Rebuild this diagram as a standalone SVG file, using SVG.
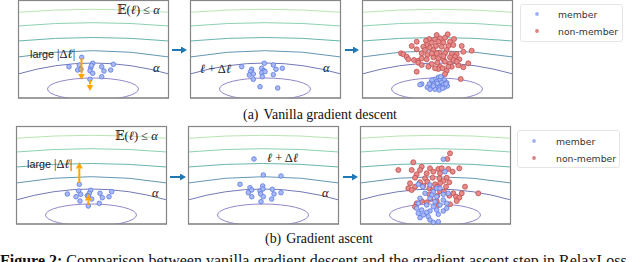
<svg xmlns="http://www.w3.org/2000/svg" xmlns:xlink="http://www.w3.org/1999/xlink" width="640" height="262" viewBox="0 0 640 262">
<style>
.pf{fill:#fff;stroke:#858585;stroke-width:1.1}
.ct{fill:none;stroke-width:1}
.c1{stroke:#b8e4b0}.c2{stroke:#8dd1b2}.c3{stroke:#68b5ae}.c4{stroke:#6497b3}.c5{stroke:#7279b5}.c6{stroke:#9587c8}
.mb{fill:#aab9f4;stroke:#5b7be6;stroke-width:0.8}
.nm{fill:#e68a8a;stroke:#c04e4e;stroke-width:0.8}
.m{font-family:"Liberation Serif","DejaVu Serif",serif;font-size:12.5px;fill:#222}
.it{font-style:italic}
.sans{font-family:"Liberation Sans",Arial,sans-serif;font-size:10.8px;fill:#222}
.lg{fill:#fff;stroke:#e2e2e2;stroke-width:0.9}
.lt{font-family:"DejaVu Sans",sans-serif;font-size:9.3px;fill:#333}
.cap{font-family:"Liberation Serif","Times New Roman",serif;fill:#111}
.ba{stroke:#1f77b4;stroke-width:2;fill:none}
.oa{stroke:#ffa500;stroke-width:2;fill:none}
</style>
<defs>
<clipPath id="pc" clipPathUnits="userSpaceOnUse"><rect x="0" y="0" width="150.5" height="98"/></clipPath>
<g id="panel">
<rect class="pf" x="0.5" y="0.5" width="150" height="97.5"/>
<g clip-path="url(#pc)">
<path class="ct c1" d="M0,12.3 Q75,6.3 151,12.3"/>
<path class="ct c2" d="M0,26 Q75,19.4 151,26"/>
<path class="ct c3" d="M0,41 Q75,34 151,41"/>
<path class="ct c4" d="M0,57 Q75,44.4 151,57"/>
<path class="ct c5" d="M0,74 Q75,52 151,74"/>
<ellipse class="ct c6" cx="75" cy="89" rx="45.5" ry="11"/>
</g>
<rect x="0.5" y="0.5" width="150" height="97.5" fill="none" stroke="#858585" stroke-width="1.1"/>
</g>
<marker id="hb" markerUnits="userSpaceOnUse" markerWidth="8" markerHeight="8" refX="0" refY="3.5" orient="auto" viewBox="0 0 8 8"><path d="M0,0 L6,3.5 L0,7 z" fill="#1f77b4"/></marker>
<marker id="ho" markerUnits="userSpaceOnUse" markerWidth="8" markerHeight="8" refX="0" refY="3.5" orient="auto" viewBox="0 0 8 8"><path d="M0,0 L6.5,3.5 L0,7 z" fill="#ffa500"/></marker>
</defs>

<g id="panel-a1">
<use xlink:href="#panel" x="18" y="0"/>
<text class="m" x="117" y="14">𝔼(<tspan class="it">ℓ</tspan>) ≤ <tspan class="it">α</tspan></text>
<text class="m it" x="153" y="72">α</text>
<text x="30" y="58"><tspan class="sans">large</tspan><tspan class="m" dx="3">|Δ<tspan class="it">ℓ</tspan>|</tspan></text>
<g>
<circle class="mb" cx="81.7" cy="57.3" r="2.3"/><circle class="mb" cx="69" cy="66.7" r="2.3"/><circle class="mb" cx="79.3" cy="65" r="2.3"/><circle class="mb" cx="77.7" cy="70" r="2.3"/><circle class="mb" cx="81" cy="69.3" r="2.3"/><circle class="mb" cx="92.7" cy="63.3" r="2.3"/><circle class="mb" cx="90.7" cy="67.7" r="2.3"/><circle class="mb" cx="90" cy="70.7" r="2.3"/><circle class="mb" cx="92.7" cy="73.3" r="2.3"/><circle class="mb" cx="101.7" cy="66.7" r="2.3"/><circle class="mb" cx="104" cy="71" r="2.3"/><circle class="mb" cx="110.7" cy="70" r="2.3"/><circle class="mb" cx="113.3" cy="64.3" r="2.3"/><circle class="mb" cx="101.7" cy="76.7" r="2.3"/><circle class="mb" cx="90" cy="79.3" r="2.3"/><circle class="mb" cx="91.5" cy="65.5" r="2.3"/>
</g>
<line class="oa" x1="81.5" y1="58" x2="81.5" y2="73.5" marker-end="url(#ho)"/>
<line class="oa" x1="90" y1="80" x2="90" y2="84.5" marker-end="url(#ho)"/>
</g>

<g id="panel-a2">
<use xlink:href="#panel" x="190" y="0"/>
<text class="m" x="200" y="73"><tspan class="it">ℓ</tspan> + Δ<tspan class="it">ℓ</tspan></text>
<text class="m it" x="323" y="72">α</text>
<circle class="mb" cx="264.3" cy="63.3" r="2.3"/><circle class="mb" cx="241.7" cy="66.7" r="2.3"/><circle class="mb" cx="273.3" cy="65" r="2.3"/><circle class="mb" cx="261.7" cy="68.3" r="2.3"/><circle class="mb" cx="264" cy="70.7" r="2.3"/><circle class="mb" cx="251.7" cy="69.3" r="2.3"/><circle class="mb" cx="250.7" cy="71.7" r="2.3"/><circle class="mb" cx="276" cy="69.3" r="2.3"/><circle class="mb" cx="282.3" cy="68.3" r="2.3"/><circle class="mb" cx="249.3" cy="75" r="2.3"/><circle class="mb" cx="253.3" cy="74" r="2.3"/><circle class="mb" cx="261.7" cy="72.7" r="2.3"/><circle class="mb" cx="273.3" cy="74.7" r="2.3"/><circle class="mb" cx="262.3" cy="76.7" r="2.3"/><circle class="mb" cx="253.3" cy="79.3" r="2.3"/><circle class="mb" cx="260" cy="86.7" r="2.3"/><circle class="mb" cx="277.7" cy="88" r="2.3"/><circle class="mb" cx="265" cy="71.7" r="2.3"/>
</g>

<g id="panel-a3">
<use xlink:href="#panel" x="362" y="0"/>
<g>
<circle class="nm" cx="436.7" cy="35" r="2.5"/><circle class="nm" cx="447.7" cy="34.3" r="2.5"/><circle class="nm" cx="429.3" cy="39" r="2.5"/><circle class="nm" cx="435" cy="39.3" r="2.5"/><circle class="nm" cx="440" cy="38.3" r="2.5"/><circle class="nm" cx="445" cy="37.7" r="2.5"/><circle class="nm" cx="454" cy="39" r="2.5"/><circle class="nm" cx="416.7" cy="41.7" r="2.5"/><circle class="nm" cx="426" cy="40.7" r="2.5"/><circle class="nm" cx="431.7" cy="42.7" r="2.5"/><circle class="nm" cx="438.3" cy="41.7" r="2.5"/><circle class="nm" cx="443.3" cy="42.7" r="2.5"/><circle class="nm" cx="450" cy="41.7" r="2.5"/><circle class="nm" cx="426.7" cy="45" r="2.5"/><circle class="nm" cx="411.7" cy="46" r="2.5"/><circle class="nm" cx="423.3" cy="46.7" r="2.5"/><circle class="nm" cx="430" cy="47.7" r="2.5"/><circle class="nm" cx="436" cy="46" r="2.5"/><circle class="nm" cx="441.7" cy="46.7" r="2.5"/><circle class="nm" cx="448.3" cy="46" r="2.5"/><circle class="nm" cx="453.3" cy="45" r="2.5"/><circle class="nm" cx="461.7" cy="46" r="2.5"/><circle class="nm" cx="416.7" cy="49.3" r="2.5"/><circle class="nm" cx="433.3" cy="50" r="2.5"/><circle class="nm" cx="446.7" cy="50" r="2.5"/><circle class="nm" cx="401" cy="53.3" r="2.5"/><circle class="nm" cx="403.3" cy="54.3" r="2.5"/><circle class="nm" cx="406.7" cy="56.7" r="2.5"/><circle class="nm" cx="421.7" cy="53.3" r="2.5"/><circle class="nm" cx="427.3" cy="55" r="2.5"/><circle class="nm" cx="439.3" cy="52.7" r="2.5"/><circle class="nm" cx="445" cy="53.3" r="2.5"/><circle class="nm" cx="451.7" cy="54" r="2.5"/><circle class="nm" cx="456.7" cy="54" r="2.5"/><circle class="nm" cx="463.3" cy="51.7" r="2.5"/><circle class="nm" cx="471.7" cy="50.7" r="2.5"/><circle class="nm" cx="414" cy="60" r="2.5"/><circle class="nm" cx="418.3" cy="60.7" r="2.5"/><circle class="nm" cx="421.7" cy="58.3" r="2.5"/><circle class="nm" cx="426.7" cy="59.3" r="2.5"/><circle class="nm" cx="433.3" cy="57.3" r="2.5"/><circle class="nm" cx="438.3" cy="58.3" r="2.5"/><circle class="nm" cx="443.3" cy="59.3" r="2.5"/><circle class="nm" cx="450" cy="57.3" r="2.5"/><circle class="nm" cx="455" cy="56.7" r="2.5"/><circle class="nm" cx="459.3" cy="59.3" r="2.5"/><circle class="nm" cx="408.3" cy="59.3" r="2.5"/><circle class="nm" cx="418.3" cy="62.7" r="2.5"/><circle class="nm" cx="431.7" cy="64" r="2.5"/><circle class="nm" cx="437.3" cy="62.7" r="2.5"/><circle class="nm" cx="445" cy="61.7" r="2.5"/><circle class="nm" cx="450" cy="63.3" r="2.5"/><circle class="nm" cx="458.3" cy="65.3" r="2.5"/><circle class="nm" cx="468.3" cy="63.3" r="2.5"/><circle class="nm" cx="463.3" cy="67.3" r="2.5"/><circle class="nm" cx="440" cy="66.7" r="2.5"/><circle class="nm" cx="438.3" cy="69" r="2.5"/><circle class="nm" cx="442.7" cy="68.3" r="2.5"/><circle class="nm" cx="446.7" cy="70.7" r="2.5"/><circle class="nm" cx="451.7" cy="66.7" r="2.5"/><circle class="nm" cx="416.7" cy="71.7" r="2.5"/><circle class="nm" cx="445" cy="74" r="2.5"/><circle class="nm" cx="460.7" cy="79" r="2.5"/><circle class="nm" cx="425" cy="50" r="2.5"/><circle class="nm" cx="436.7" cy="53.3" r="2.5"/><circle class="nm" cx="443.3" cy="56" r="2.5"/><circle class="nm" cx="431.7" cy="53.3" r="2.5"/><circle class="nm" cx="453.3" cy="60" r="2.5"/><circle class="nm" cx="428.3" cy="66.7" r="2.5"/><circle class="nm" cx="435" cy="68.3" r="2.5"/><circle class="nm" cx="421.7" cy="65" r="2.5"/><circle class="nm" cx="448.3" cy="66.7" r="2.5"/><circle class="nm" cx="456.7" cy="61.7" r="2.5"/>
</g>
<g>
<circle class="mb" cx="438.3" cy="77.3" r="2.3"/><circle class="mb" cx="441.7" cy="78.3" r="2.3"/><circle class="mb" cx="435" cy="79.3" r="2.3"/><circle class="mb" cx="440" cy="80" r="2.3"/><circle class="mb" cx="444.3" cy="80" r="2.3"/><circle class="mb" cx="431.7" cy="81.7" r="2.3"/><circle class="mb" cx="436.7" cy="81.7" r="2.3"/><circle class="mb" cx="441.7" cy="82.7" r="2.3"/><circle class="mb" cx="446.7" cy="82.7" r="2.3"/><circle class="mb" cx="429.3" cy="84" r="2.3"/><circle class="mb" cx="434" cy="84" r="2.3"/><circle class="mb" cx="438.3" cy="85" r="2.3"/><circle class="mb" cx="443.3" cy="85" r="2.3"/><circle class="mb" cx="447.3" cy="86" r="2.3"/><circle class="mb" cx="427.3" cy="87.3" r="2.3"/><circle class="mb" cx="431.7" cy="87.3" r="2.3"/><circle class="mb" cx="436" cy="87.3" r="2.3"/><circle class="mb" cx="440" cy="87.7" r="2.3"/><circle class="mb" cx="444.3" cy="87.3" r="2.3"/><circle class="mb" cx="430" cy="89.3" r="2.3"/><circle class="mb" cx="435" cy="89.3" r="2.3"/><circle class="mb" cx="439.3" cy="90" r="2.3"/><circle class="mb" cx="433.3" cy="86" r="2.3"/><circle class="mb" cx="437.3" cy="83.3" r="2.3"/><circle class="mb" cx="442.7" cy="88.3" r="2.3"/><circle class="mb" cx="421.7" cy="84" r="2.3"/><circle class="mb" cx="420" cy="84.7" r="2.3"/><circle class="mb" cx="432" cy="80" r="2.3"/><circle class="mb" cx="446" cy="84" r="2.3"/><circle class="mb" cx="440.7" cy="76.7" r="2.3"/>
</g>
</g>

<g id="legend-a">
<rect class="lg" x="520.5" y="4.5" width="102" height="37" rx="2.5"/>
<circle cx="537" cy="14" r="1.9" fill="#9fb0f0"/>
<text class="lt" x="558" y="17.5">member</text>
<circle cx="537" cy="31" r="1.9" fill="#dc8484"/>
<text class="lt" x="558" y="34.5">non-member</text>
</g>

<text id="caption-a" class="cap" x="320" y="119" font-size="13.9" text-anchor="middle">(a)<tspan dx="5">Vanilla gradient descent</tspan></text>

<g id="panel-b1">
<use xlink:href="#panel" x="16" y="126"/>
<text class="m" x="115" y="140">𝔼(<tspan class="it">ℓ</tspan>) ≤ <tspan class="it">α</tspan></text>
<text class="m it" x="152" y="197">α</text>
<text x="27" y="168"><tspan class="sans">large</tspan><tspan class="m" dx="3">|Δ<tspan class="it">ℓ</tspan>|</tspan></text>
<circle class="mb" cx="79.3" cy="184.3" r="2.3"/><circle class="mb" cx="67.3" cy="194" r="2.3"/><circle class="mb" cx="78.7" cy="191" r="2.3"/><circle class="mb" cx="80.7" cy="194.3" r="2.3"/><circle class="mb" cx="76" cy="196.7" r="2.3"/><circle class="mb" cx="80" cy="201" r="2.3"/><circle class="mb" cx="90.7" cy="190.3" r="2.3"/><circle class="mb" cx="89.3" cy="193.3" r="2.3"/><circle class="mb" cx="87.3" cy="195.7" r="2.3"/><circle class="mb" cx="91.7" cy="199" r="2.3"/><circle class="mb" cx="100" cy="193.3" r="2.3"/><circle class="mb" cx="102.3" cy="197.7" r="2.3"/><circle class="mb" cx="109" cy="196.7" r="2.3"/><circle class="mb" cx="111.7" cy="191.7" r="2.3"/><circle class="mb" cx="99.3" cy="203.3" r="2.3"/><circle class="mb" cx="88.3" cy="206" r="2.3"/><circle class="mb" cx="88.3" cy="196" r="2.3"/>
<line class="oa" x1="79.3" y1="183" x2="79.3" y2="168.5" marker-end="url(#ho)"/>
<line class="oa" x1="88.3" y1="205" x2="88.3" y2="200.5" marker-end="url(#ho)"/>
</g>

<g id="panel-b2">
<use xlink:href="#panel" x="188" y="126"/>
<text class="m" x="267" y="162"><tspan class="it">ℓ</tspan> + Δ<tspan class="it">ℓ</tspan></text>
<text class="m it" x="322" y="197">α</text>
<circle class="mb" cx="254" cy="159" r="2.3"/><circle class="mb" cx="263.3" cy="175" r="2.3"/><circle class="mb" cx="281" cy="176" r="2.3"/><circle class="mb" cx="240" cy="184.3" r="2.3"/><circle class="mb" cx="250" cy="187.7" r="2.3"/><circle class="mb" cx="262.7" cy="186" r="2.3"/><circle class="mb" cx="251.7" cy="190" r="2.3"/><circle class="mb" cx="248.3" cy="192.7" r="2.3"/><circle class="mb" cx="260" cy="191" r="2.3"/><circle class="mb" cx="272.3" cy="189.3" r="2.3"/><circle class="mb" cx="281" cy="192.7" r="2.3"/><circle class="mb" cx="274" cy="194" r="2.3"/><circle class="mb" cx="260.7" cy="194" r="2.3"/><circle class="mb" cx="251.7" cy="196.7" r="2.3"/><circle class="mb" cx="263.3" cy="196.7" r="2.3"/><circle class="mb" cx="271.7" cy="199" r="2.3"/><circle class="mb" cx="261" cy="201.7" r="2.3"/><circle class="mb" cx="263" cy="189" r="2.3"/>
</g>

<g id="panel-b3">
<use xlink:href="#panel" x="360" y="126"/>
<g>
<circle class="nm" cx="450" cy="153.3" r="2.5"/><circle class="nm" cx="447.3" cy="159" r="2.5"/><circle class="nm" cx="413.3" cy="162.3" r="2.5"/><circle class="nm" cx="421.7" cy="166.7" r="2.5"/><circle class="nm" cx="420" cy="170" r="2.5"/><circle class="nm" cx="398.3" cy="170" r="2.5"/><circle class="nm" cx="411.7" cy="170" r="2.5"/><circle class="nm" cx="430" cy="168.3" r="2.5"/><circle class="nm" cx="438.3" cy="169" r="2.5"/><circle class="nm" cx="441.7" cy="168.3" r="2.5"/><circle class="nm" cx="448.3" cy="169" r="2.5"/><circle class="nm" cx="459.3" cy="168.3" r="2.5"/><circle class="nm" cx="416.7" cy="174.3" r="2.5"/><circle class="nm" cx="426.7" cy="173.3" r="2.5"/><circle class="nm" cx="433.3" cy="171.7" r="2.5"/><circle class="nm" cx="440" cy="173.3" r="2.5"/><circle class="nm" cx="452.7" cy="171.7" r="2.5"/><circle class="nm" cx="415" cy="177.7" r="2.5"/><circle class="nm" cx="425" cy="178.3" r="2.5"/><circle class="nm" cx="432.7" cy="177.7" r="2.5"/><circle class="nm" cx="439.3" cy="178.3" r="2.5"/><circle class="nm" cx="446.7" cy="177.7" r="2.5"/><circle class="nm" cx="443.3" cy="181" r="2.5"/><circle class="nm" cx="410" cy="183.3" r="2.5"/><circle class="nm" cx="420" cy="182.3" r="2.5"/><circle class="nm" cx="427.3" cy="181.7" r="2.5"/><circle class="nm" cx="435" cy="184.3" r="2.5"/><circle class="nm" cx="440" cy="183.3" r="2.5"/><circle class="nm" cx="449.3" cy="182.3" r="2.5"/><circle class="nm" cx="408.3" cy="188.3" r="2.5"/><circle class="nm" cx="415" cy="186.7" r="2.5"/><circle class="nm" cx="423.3" cy="185.7" r="2.5"/><circle class="nm" cx="429.3" cy="188.3" r="2.5"/><circle class="nm" cx="437.3" cy="186.7" r="2.5"/><circle class="nm" cx="446" cy="186.7" r="2.5"/><circle class="nm" cx="465" cy="186.7" r="2.5"/><circle class="nm" cx="411.7" cy="190" r="2.5"/><circle class="nm" cx="433.3" cy="190" r="2.5"/><circle class="nm" cx="440" cy="191" r="2.5"/><circle class="nm" cx="444" cy="191.7" r="2.5"/><circle class="nm" cx="453.3" cy="193.3" r="2.5"/><circle class="nm" cx="461.7" cy="193.3" r="2.5"/><circle class="nm" cx="478.3" cy="193.3" r="2.5"/><circle class="nm" cx="429.3" cy="194.3" r="2.5"/><circle class="nm" cx="437.3" cy="195.7" r="2.5"/><circle class="nm" cx="449.3" cy="195.7" r="2.5"/><circle class="nm" cx="456" cy="196.7" r="2.5"/><circle class="nm" cx="459.3" cy="197.7" r="2.5"/><circle class="nm" cx="456.7" cy="201" r="2.5"/><circle class="nm" cx="430.7" cy="199" r="2.5"/><circle class="nm" cx="436.7" cy="201" r="2.5"/><circle class="nm" cx="416.7" cy="203.3" r="2.5"/><circle class="nm" cx="415" cy="206.7" r="2.5"/><circle class="nm" cx="450" cy="204.3" r="2.5"/><circle class="nm" cx="438.3" cy="205" r="2.5"/><circle class="nm" cx="426.7" cy="202.3" r="2.5"/><circle class="nm" cx="421.7" cy="201" r="2.5"/>
</g>
<g>
<circle class="mb" cx="443.3" cy="159.3" r="2.3"/><circle class="mb" cx="445" cy="171.7" r="2.3"/><circle class="mb" cx="422.7" cy="186.7" r="2.3"/><circle class="mb" cx="418.3" cy="184.3" r="2.3"/><circle class="mb" cx="430" cy="185" r="2.3"/><circle class="mb" cx="436.7" cy="188.3" r="2.3"/><circle class="mb" cx="433.3" cy="191.7" r="2.3"/><circle class="mb" cx="440" cy="188.3" r="2.3"/><circle class="mb" cx="425" cy="193.3" r="2.3"/><circle class="mb" cx="431.7" cy="195" r="2.3"/><circle class="mb" cx="420" cy="198.3" r="2.3"/><circle class="mb" cx="430" cy="198.3" r="2.3"/><circle class="mb" cx="436.7" cy="196.7" r="2.3"/><circle class="mb" cx="443.3" cy="194.3" r="2.3"/><circle class="mb" cx="448.3" cy="193.3" r="2.3"/><circle class="mb" cx="418.3" cy="203.3" r="2.3"/><circle class="mb" cx="426.7" cy="205" r="2.3"/><circle class="mb" cx="433.3" cy="206.7" r="2.3"/><circle class="mb" cx="440" cy="205" r="2.3"/><circle class="mb" cx="446.7" cy="203.3" r="2.3"/><circle class="mb" cx="421.7" cy="210" r="2.3"/><circle class="mb" cx="430" cy="211" r="2.3"/><circle class="mb" cx="436.7" cy="210" r="2.3"/><circle class="mb" cx="443.3" cy="211" r="2.3"/><circle class="mb" cx="418.3" cy="213.3" r="2.3"/><circle class="mb" cx="423.3" cy="215" r="2.3"/><circle class="mb" cx="428.3" cy="216.7" r="2.3"/><circle class="mb" cx="438.3" cy="214.3" r="2.3"/><circle class="mb" cx="420" cy="217.7" r="2.3"/><circle class="mb" cx="430" cy="220" r="2.3"/><circle class="mb" cx="433.3" cy="222.3" r="2.3"/><circle class="mb" cx="438.3" cy="221.7" r="2.3"/><circle class="mb" cx="426.7" cy="212.3" r="2.3"/><circle class="mb" cx="435" cy="201.7" r="2.3"/><circle class="mb" cx="443.3" cy="200" r="2.3"/><circle class="mb" cx="416.7" cy="208.3" r="2.3"/><circle class="mb" cx="446.7" cy="208.3" r="2.3"/>
</g>
</g>

<g id="legend-b">
<rect class="lg" x="517.5" y="130.5" width="102" height="37" rx="2.5"/>
<circle cx="534" cy="141" r="1.9" fill="#9fb0f0"/>
<text class="lt" x="556" y="144.5">member</text>
<circle cx="534" cy="158" r="1.9" fill="#dc8484"/>
<text class="lt" x="556" y="161.5">non-member</text>
</g>

<text id="caption-b" class="cap" x="319" y="243" font-size="13.9" text-anchor="middle">(b)<tspan dx="5">Gradient ascent</tspan></text>

<g id="connectors">
<line class="ba" x1="172" y1="50" x2="181" y2="50" marker-end="url(#hb)"/>
<line class="ba" x1="345" y1="50" x2="353" y2="50" marker-end="url(#hb)"/>
<line class="ba" x1="170" y1="177" x2="180" y2="177" marker-end="url(#hb)"/>
<line class="ba" x1="343" y1="177" x2="352" y2="177" marker-end="url(#hb)"/>
</g>

<text id="figure-caption" class="cap" x="0" y="265.5" font-size="16"><tspan font-weight="bold">Figure 2:</tspan> Comparison between vanilla gradient descent and the gradient ascent step in RelaxLoss</text>
</svg>
